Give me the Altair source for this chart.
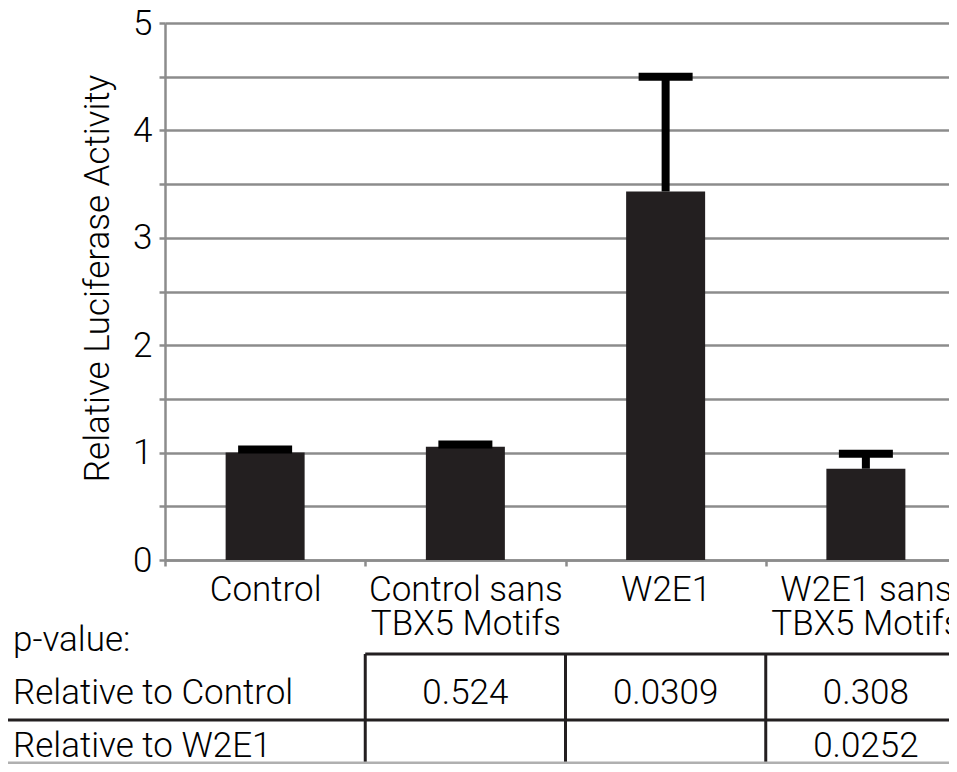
import altair as alt
import pandas as pd

# ---- data ----
categories = ["Control", "Control sans TBX5 Motifs", "W2E1", "W2E1 sans TBX5 Motifs"]
means = [1.0, 1.055, 3.43, 0.85]
upper = [1.03, 1.075, 4.50, 0.99]

row_labels = ["p-value:", "Relative to Control", "Relative to W2E1"]
p_vs_control = ["", "0.524", "0.0309", "0.308"]
p_vs_w2e1 = ["", "", "", "0.0252"]

FONT = "Roboto"
FW = 300
FS = 35
GRAY = "#8c8c8c"
DARK = "#231f20"

bars_df = pd.DataFrame({"cat": categories, "mean": means, "upper": upper})

cells = []
for c, a, b in zip(categories, p_vs_control, p_vs_w2e1):
    if a:
        cells.append({"cat": c, "row": row_labels[1], "txt": a})
    if b:
        cells.append({"cat": c, "row": row_labels[2], "txt": b})
cells_df = pd.DataFrame(cells)
rowlab_df = pd.DataFrame({"row": row_labels})

xscale = alt.Scale(domain=categories, range=[0, 801], paddingInner=0, paddingOuter=0)
yscale = alt.Scale(domain=[0, 5], nice=False)

label_expr = ("indexof(datum.label, ' sans') >= 0 ? "
              "[slice(datum.label, 0, indexof(datum.label, ' sans') + 5), "
              "slice(datum.label, indexof(datum.label, ' sans') + 6)] : datum.label")

x_axis = alt.Axis(
    title=None, labelExpr=label_expr, labelFont=FONT, labelFontWeight=FW,
    labelFontSize=FS, labelColor="black", labelLineHeight=34,
    labelBaseline="alphabetic", labelPadding=34, labelLimit=0,
    labelOverlap=False, labelFlush=False, labelAngle=0,
    tickBand="extent", tickSize=6, tickColor=GRAY, tickWidth=2.5,
    domainColor=GRAY, domainWidth=2.5, grid=False,
)

y_axis = alt.Axis(
    values=[0, 0.5, 1, 1.5, 2, 2.5, 3, 3.5, 4, 4.5, 5],
    labelExpr="datum.value % 1 == 0 ? format(datum.value, 'd') : ''",
    labelFont=FONT, labelFontWeight=FW, labelFontSize=FS, labelColor="black",
    labelPadding=7, tickSize=6, tickColor=GRAY, tickWidth=2.5,
    domainColor=GRAY, domainWidth=2.5, grid=True, gridColor=GRAY, gridWidth=2.5,
    title="Relative Luciferase Activity", titleFont=FONT, titleFontWeight=FW,
    titleFontSize=FS, titleColor="black", titleAngle=270, titleX=-57, titleY=255,
    titleAlign="center", titleBaseline="alphabetic",
)

base = alt.Chart(bars_df)
bars = base.mark_bar(size=79, color=DARK).encode(
    x=alt.X("cat:N", scale=xscale, axis=x_axis, sort=categories),
    y=alt.Y("mean:Q", scale=yscale, axis=y_axis),
)
stems = base.mark_rule(strokeWidth=8, color="black").encode(
    x=alt.X("cat:N", scale=xscale, sort=categories),
    y=alt.Y("mean:Q", scale=yscale),
    y2="upper:Q",
)
caps = base.mark_tick(thickness=8, size=54, color="black", opacity=1).encode(
    x=alt.X("cat:N", scale=xscale, sort=categories),
    y=alt.Y("upper:Q", scale=yscale),
)
data_layer = alt.layer(bars, stems, caps)

rowscale = alt.Scale(domain=row_labels, range=[628, 734], padding=0)

row_text = alt.Chart(rowlab_df).mark_text(
    font=FONT, fontWeight=FW, fontSize=FS, color="black", align="left",
    baseline="alphabetic",
).encode(
    x=alt.value(-152),
    y=alt.Y("row:N", scale=rowscale, axis=None),
    text="row:N",
)
cell_text = alt.Chart(cells_df).mark_text(
    font=FONT, fontWeight=FW, fontSize=FS, color="black", align="center",
    baseline="alphabetic",
).encode(
    x=alt.X("cat:N", scale=xscale, sort=categories),
    y=alt.Y("row:N", scale=rowscale, axis=None),
    text="txt:N",
)

vlines_df = pd.DataFrame({"cat": categories[1:]})
vlines = alt.Chart(vlines_df).mark_rule(strokeWidth=3, color=DARK).encode(
    x=alt.X("cat:N", scale=xscale, sort=categories, bandPosition=0),
    y=alt.value(631), y2=alt.value(760),
)
top_line = alt.Chart(pd.DataFrame({"cat": [categories[1]]})).mark_rule(
    strokeWidth=3, color=DARK).encode(
    x=alt.X("cat:N", scale=xscale, sort=categories, bandPosition=0),
    x2=alt.value(801), y=alt.value(631),
)
mid_line = alt.Chart(pd.DataFrame({"cat": [categories[0]]})).mark_rule(
    strokeWidth=3, color=DARK).encode(
    x=alt.value(-165), x2=alt.value(801), y=alt.value(697),
)
bottom_line = alt.Chart(pd.DataFrame({"cat": [categories[0]]})).mark_rule(
    strokeWidth=3, color="#b0b0b0").encode(
    x=alt.value(-165), x2=alt.value(801), y=alt.value(740),
)
table_layer = alt.layer(vlines, top_line, mid_line, bottom_line, row_text, cell_text)

chart = alt.layer(data_layer, table_layer).resolve_scale(y="independent").properties(
    width=784, height=537,
    autosize=alt.AutoSizeParams(type="none"),
    padding={"left": 157, "top": 15, "right": 0, "bottom": 204},
    background="white",
).configure_view(stroke=None)

chart.save("out.html", embed_options={"renderer": "svg", "actions": False})
